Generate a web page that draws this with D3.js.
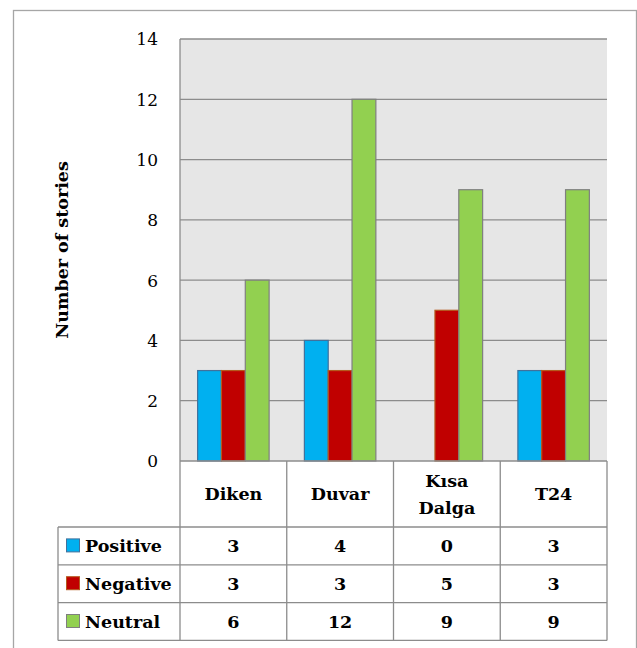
<!DOCTYPE html>
<html><head><meta charset="utf-8">
<script src="https://cdn.jsdelivr.net/npm/d3@7"></script>
<style>body{margin:0;background:#fff}svg{display:block}</style>
</head><body><svg id="c" width="637" height="648"></svg>
<script>
const categories = [["Diken"], ["Duvar"], ["Kısa", "Dalga"], ["T24"]];
const seriesNames = ["Positive", "Negative", "Neutral"];
const positive = [3, 4, 0, 3];
const negative = [3, 3, 5, 3];
const neutral = [6, 12, 9, 9];
const yTicks = [0, 2, 4, 6, 8, 10, 12, 14];
const colors = ["#00B0F0", "#C00000", "#92D050"];
const strokes = ["#41719C", "#B55A1E", "#7F7F7F"];
const seriesValues = [positive, negative, neutral];
const yTitle = "Number of stories";

const font = "DejaVu Serif";
const svg = d3.select("#c");
const L = 180, R = 607, T = 39, B = 461;
const catRowB = 527, rowH = 37.8, legL = 58;

svg.append("rect").attr("x", 13.5).attr("y", 10.5).attr("width", 623).attr("height", 660)
  .attr("fill", "none").attr("stroke", "#A6A6A6").attr("stroke-width", 1.3);

const catIdx = categories.map((d, i) => i);
const x = d3.scaleBand().domain(catIdx).range([L, R]).padding(0);
const xs = d3.scaleBand().domain(d3.range(3)).range([0, x.bandwidth()]).paddingInner(0).paddingOuter(0.74);
const y = d3.scaleLinear().domain([0, 14]).range([B, T]);

svg.append("rect").attr("x", L).attr("y", T).attr("width", R - L).attr("height", B - T).attr("fill", "#E6E6E6");

svg.append("g").selectAll("line").data(yTicks.filter(d => d > 0)).join("line")
  .attr("x1", L).attr("x2", R).attr("y1", d => y(d)).attr("y2", d => y(d))
  .attr("stroke", "#8C8C8C").attr("stroke-width", 1.3);

const yAxis = svg.append("g").attr("transform", `translate(${L - 22},0)`)
  .call(d3.axisLeft(y).tickValues(yTicks).tickSize(0).tickPadding(0).tickFormat(d3.format("d")));
yAxis.select(".domain").remove();
yAxis.attr("font-family", null).attr("font-size", null);
yAxis.selectAll("text").style("font-family", font).style("font-size", "17px").attr("fill", "#000").attr("dy", "0.35em");

seriesValues.forEach((vals, s) => {
  svg.append("g").selectAll("rect").data(vals.map((v, i) => ({v, i})).filter(d => d.v > 0)).join("rect")
    .attr("x", d => x(d.i) + xs(s)).attr("width", xs.bandwidth())
    .attr("y", d => y(d.v)).attr("height", d => y(0) - y(d.v))
    .attr("fill", colors[s]).attr("stroke", strokes[s]).attr("stroke-width", 1.2);
});

const g = svg.append("g").attr("stroke", "#8C8C8C").attr("stroke-width", 1.3).attr("fill", "none");
const tableBottom = catRowB + rowH * 3;
g.append("line").attr("x1", L).attr("x2", L).attr("y1", T).attr("y2", tableBottom);
g.append("line").attr("x1", L).attr("x2", R).attr("y1", B).attr("y2", B);
catIdx.forEach(i => {
  g.append("line").attr("x1", x(i) + x.bandwidth()).attr("x2", x(i) + x.bandwidth()).attr("y1", B).attr("y2", tableBottom);
});
d3.range(4).forEach(r => {
  g.append("line").attr("x1", legL).attr("x2", R).attr("y1", catRowB + r * rowH).attr("y2", catRowB + r * rowH);
});
g.append("line").attr("x1", legL).attr("x2", legL).attr("y1", catRowB).attr("y2", tableBottom);

function txt(sel) {
  return sel.style("font-family", font).style("font-weight", "bold").style("font-size", "17.5px");
}

catIdx.forEach(i => {
  const lines = categories[i];
  const cy = (B + catRowB) / 2;
  lines.forEach((t, k) => {
    txt(svg.append("text").attr("x", x(i) + x.bandwidth() / 2)
      .attr("y", cy + (k - (lines.length - 1) / 2) * 27).attr("dy", "0.35em")
      .attr("text-anchor", "middle")).text(t);
  });
});

seriesValues.forEach((vals, s) => {
  const cy = catRowB + rowH * s + rowH / 2;
  vals.forEach((v, i) => {
    txt(svg.append("text").attr("x", x(i) + x.bandwidth() / 2).attr("y", cy).attr("dy", "0.35em")
      .attr("text-anchor", "middle")).text(v);
  });
  svg.append("rect").attr("x", 66.5).attr("y", cy - 7).attr("width", 13).attr("height", 13)
    .attr("fill", colors[s]).attr("stroke", strokes[s]).attr("stroke-width", 1);
  txt(svg.append("text").attr("x", 85).attr("y", cy).attr("dy", "0.35em")).style("font-size", "17.5px")
    .text(seriesNames[s]);
});

txt(svg.append("text").attr("transform", `translate(62,250) rotate(-90)`).attr("dy", "0.35em")
  .attr("text-anchor", "middle")).text(yTitle);
</script></body></html>
